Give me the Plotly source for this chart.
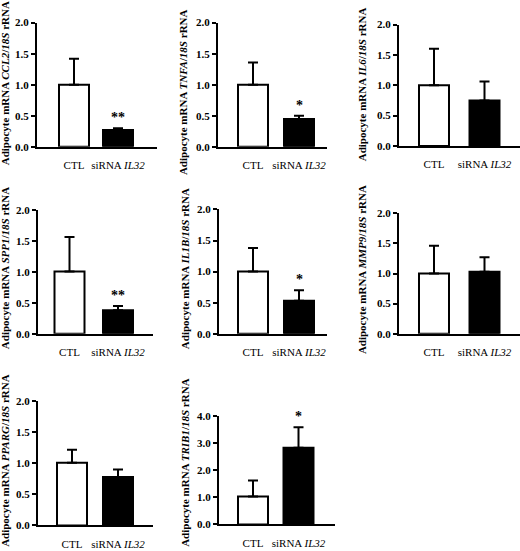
import plotly.graph_objects as go

# bar values (relative expression, CTL vs siRNA IL32)
genes = ['CCL2', 'TNFA', 'IL6', 'SPP1', 'IL1B', 'MMP9', 'PPARG', 'TRIB1']
groups = ['CTL', 'siRNA <i>IL32</i>']
ctl_means = [1.00, 1.00, 1.00, 1.01, 1.00, 1.00, 1.01, 1.03]
ctl_errs = [0.42, 0.36, 0.60, 0.56, 0.38, 0.46, 0.21, 0.59]
sirna_means = [0.27, 0.45, 0.75, 0.38, 0.53, 1.03, 0.78, 2.83]
sirna_errs = [0.03, 0.05, 0.31, 0.07, 0.17, 0.24, 0.12, 0.75]
stars = ['**', '*', '', '**', '*', '', '', '*']
y_max = [2, 2, 2, 2, 2, 2, 2, 4]

W, H = 520, 551
# panel layout in pixels: axis x0, x1, CTL centre, siRNA centre, ytop, ybottom
boxes = [
    (37, 157, 74, 118, 17, 144), (218, 327, 253, 299, 17, 144),
    (399, 520, 434, 484.5, 19, 143),
    (38, 153, 69.5, 118, 209, 335), (219, 327, 253, 299, 208, 335),
    (399, 520, 434, 484.5, 212, 335),
    (38, 153, 72, 118, 404, 531), (219, 335, 253, 298.5, 419, 530),
]
# y-title centre (x px, y px)
title_pos = [(5, 79), (183, 88), (362, 80), (5, 268), (185, 269), (362, 270),
             (5, 465), (185, 467)]

FONT = 'Times New Roman, Liberation Serif, serif'
fig = go.Figure()

for i, g in enumerate(genes):
    n = '' if i == 0 else str(i + 1)
    x0, x1, cc, sc, yt, yb = boxes[i]
    step = sc - cc
    fig.add_trace(go.Bar(
        x=groups, y=[ctl_means[i], sirna_means[i]],
        marker=dict(color=['white', 'black'], line=dict(color='black', width=2)),
        width=30 / step,
        error_y=dict(type='data', symmetric=False,
                     array=[ctl_errs[i], sirna_errs[i]], arrayminus=[0, 0],
                     color='black', thickness=2, width=5),
        xaxis='x' + n, yaxis='y' + n, showlegend=False))
    if stars[i]:
        fig.add_annotation(x=1, y=sirna_means[i] + sirna_errs[i], yshift=1,
                           text='<b>' + stars[i] + '</b>', showarrow=False,
                           yanchor='bottom', xref='x' + n, yref='y' + n,
                           font=dict(family=FONT, size=14, color='black'))
    tx, ty = title_pos[i]
    fig.add_annotation(x=tx / W, y=1 - ty / H, xref='paper', yref='paper',
                       text='<b>Adipocyte mRNA <i>' + g + '</i>/<i>18S</i> rRNA</b>',
                       textangle=-90, showarrow=False,
                       xanchor='center', yanchor='middle',
                       font=dict(family=FONT, size=11, color='black'))
    dtick = 1 if y_max[i] > 2 else 0.5
    tv = [k * dtick for k in range(int(y_max[i] / dtick) + 1)]
    fig.layout['xaxis' + n] = dict(
        domain=[x0 / W, x1 / W], range=[(x0 - cc) / step, (x1 - cc) / step],
        anchor='y' + n, showline=True, linecolor='black', linewidth=2, ticks='',
        ticklabelstandoff=7,
        tickfont=dict(family=FONT, size=11, color='black'), fixedrange=True)
    fig.layout['yaxis' + n] = dict(
        domain=[1 - yb / H, 1 - yt / H], range=[0, y_max[i]], anchor='x' + n,
        showline=True, linecolor='black', linewidth=2, ticks='outside',
        ticklen=4, tickwidth=2, tickcolor='black',
        tickvals=tv, ticktext=['<b>%.1f</b>' % v for v in tv],
        showgrid=False, zeroline=False,
        tickfont=dict(family=FONT, size=11, color='black'),
        fixedrange=True)

fig.update_layout(width=W, height=H, margin=dict(l=0, r=0, t=0, b=0),
                  plot_bgcolor='white', paper_bgcolor='white')
# page default body margin would push the figure 8px down/right
fig.write_html('out.html', config={'displayModeBar': False},
               post_script="document.body.style.margin='0';")
